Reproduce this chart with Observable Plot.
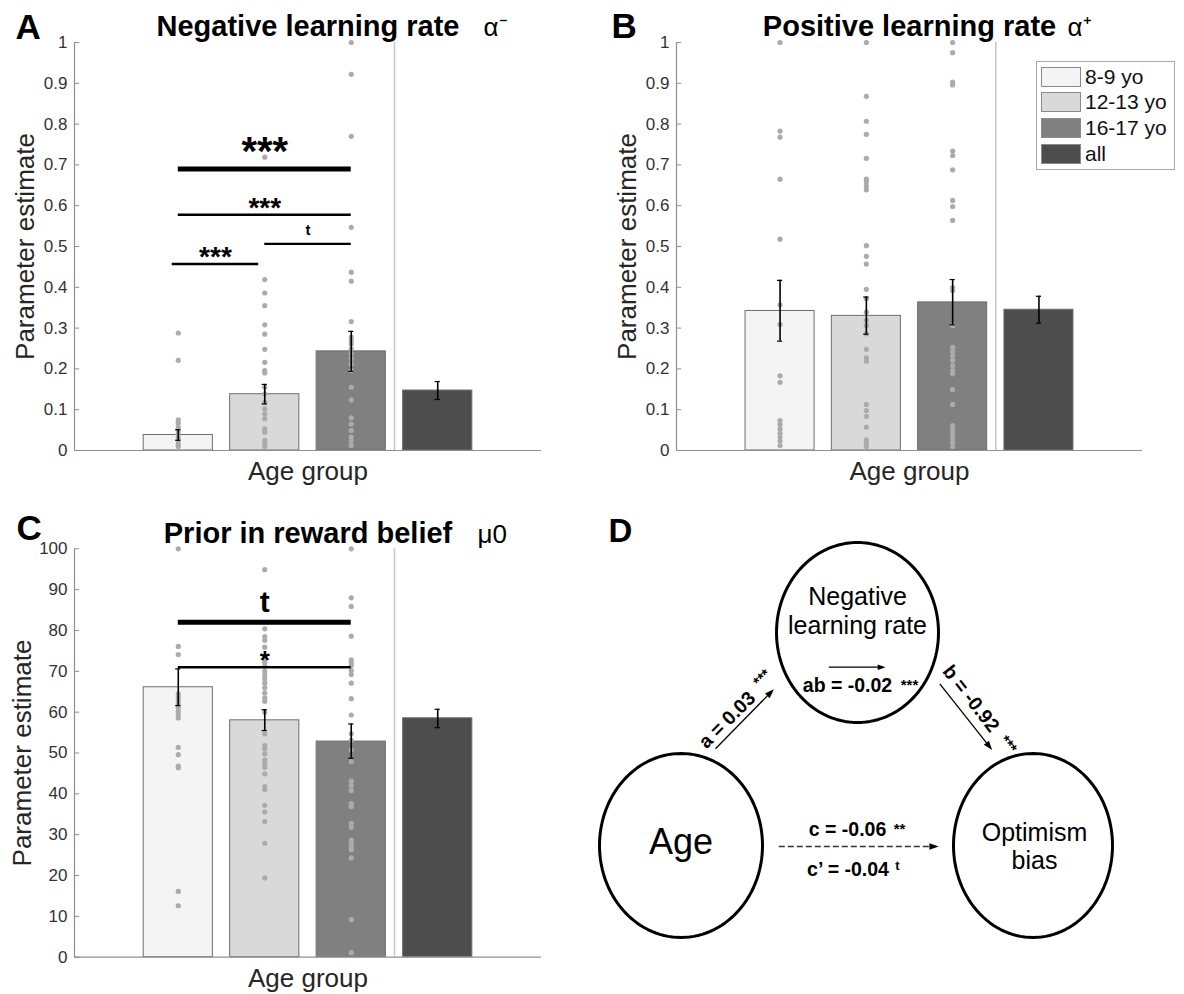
<!DOCTYPE html>
<html>
<head>
<meta charset="utf-8">
<script src="https://cdn.jsdelivr.net/npm/d3@7"></script>
<script src="https://cdn.jsdelivr.net/npm/@observablehq/plot@0.6"></script>
<style>
  body { margin: 0; background: #fff; }
  #fig { position: relative; width: 1184px; height: 994px; background: #fff;
         font-family: "Liberation Sans", Arial, Helvetica, sans-serif; overflow: hidden; }
  .panel { position: absolute; }
  #legend { position: absolute; left: 1036px; top: 61px; width: 139px; height: 109px;
            border: 1px solid #a8a8a8; box-sizing: border-box; background: #fff; }
  #legend .sw { position: absolute; left: 4px; width: 40px; height: 20px; box-sizing: border-box; border: 1px solid #8a8a8a; }
  #legend .lb { position: absolute; left: 48px; font-size: 21px; line-height: 21px; color: #111; white-space: nowrap; }
</style>
</head>
<body>
<div id="fig"></div>
<script>
// ---------------- data ----------------
const groups = ["8-9 yo", "12-13 yo", "16-17 yo", "all"];
const groupFill = ["#f4f4f4", "#d9d9d9", "#808080", "#4d4d4d"];
const xLabel = "Age group";
const yLabel = "Parameter estimate";

// Panel A: negative learning rate
const negTitle = "Negative learning rate";
const negSymbol = "α⁻";
const negMean = [0.038, 0.138, 0.243, 0.147];
const negLow  = [0.025, 0.114, 0.194, 0.125];
const negHigh = [0.051, 0.162, 0.292, 0.169];
const negDots89   = [0.288, 0.221, 0.075, 0.067, 0.057, 0.049, 0.041, 0.033, 0.025, 0.016, 0.010];
const negDots1213 = [0.719, 0.419, 0.386, 0.355, 0.308, 0.285, 0.248, 0.216, 0.196, 0.190, 0.155, 0.139, 0.118, 0.102, 0.090, 0.078, 0.053, 0.045, 0.025, 0.016, 0.010];
const negDots1617 = [1.0, 0.922, 0.770, 0.547, 0.437, 0.415, 0.316, 0.278, 0.270, 0.261, 0.249, 0.237, 0.225, 0.212, 0.196, 0.155, 0.124, 0.080, 0.065, 0.049, 0.033, 0.023, 0.012];
const negSig = [
  {from: 1, to: 3, y: 0.690, label: "***", kind: "main"},
  {from: 1, to: 3, y: 0.578, label: "***", kind: "pair"},
  {from: 2, to: 3, y: 0.5065, label: "t", kind: "pair"},
  {from: 0.93, to: 1.93, y: 0.457, label: "***", kind: "pair"}
];
const rateTicks = [0, 0.1, 0.2, 0.3, 0.4, 0.5, 0.6, 0.7, 0.8, 0.9, 1];

// Panel B: positive learning rate
const posTitle = "Positive learning rate";
const posSymbol = "α⁺";
const posMean = [0.342, 0.330, 0.363, 0.345];
const posLow  = [0.268, 0.285, 0.308, 0.312];
const posHigh = [0.417, 0.376, 0.419, 0.378];
const posDots89   = [1.0, 0.783, 0.768, 0.665, 0.518, 0.357, 0.309, 0.183, 0.167, 0.0735, 0.064, 0.053, 0.042, 0.033, 0.023, 0.012];
const posDots1213 = [1.0, 0.868, 0.807, 0.775, 0.716, 0.665, 0.658, 0.648, 0.639, 0.502, 0.476, 0.457, 0.395, 0.372, 0.339, 0.319, 0.306, 0.286, 0.248, 0.227, 0.219, 0.113, 0.098, 0.084, 0.057, 0.026, 0.018, 0.010];
const posDots1617 = [1.0, 0.975, 0.903, 0.896, 0.734, 0.723, 0.688, 0.613, 0.598, 0.564, 0.399, 0.392, 0.306, 0.253, 0.243, 0.233, 0.221, 0.208, 0.196, 0.188, 0.149, 0.113, 0.061, 0.051, 0.041, 0.031, 0.020, 0.010];
const posSig = [];

// Panel C: prior in reward belief
const priorTitle = "Prior in reward belief";
const priorSymbol = "μ0";
const priorMean = [66.1, 58.0, 52.8, 58.5];
const priorLow  = [61.6, 55.5, 48.7, 56.2];
const priorHigh = [70.6, 60.6, 57.1, 60.7];
const priorDots89   = [100, 76.1, 74.1, 64.5, 63.7, 63.0, 62.0, 61.1, 60.2, 59.4, 58.6, 51.4, 49.6, 46.8, 46.4, 16.1, 12.6];
const priorDots1213 = [94.9, 80.4, 78.5, 77.6, 75.9, 73.5, 72.2, 71.3, 70.0, 69.1, 68.2, 67.1, 66.0, 64.7, 63.5, 62.7, 60.0, 54.7, 51.8, 51.0, 49.8, 48.3, 47.3, 46.5, 44.9, 41.8, 41.0, 37.2, 35.6, 33.2, 27.9, 19.4];
const priorDots1617 = [100, 88.0, 85.9, 78.6, 72.8, 72.1, 71.4, 70.2, 69.2, 67.1, 63.3, 59.3, 54.7, 53.1, 50.8, 47.9, 43.1, 42.0, 40.8, 37.6, 36.9, 32.8, 31.8, 28.7, 27.8, 26.9, 26.3, 24.3, 9.2, 1.1];
const priorSig = [
  {from: 1, to: 3, y: 82.0, label: "t", kind: "main"},
  {from: 1, to: 3, y: 71.0, label: "*", kind: "pair"}
];
const priorTicks = [0, 10, 20, 30, 40, 50, 60, 70, 80, 90, 100];

// Panel D: mediation model
const medNodes = ["Age", "Negative\nlearning rate", "Optimism\nbias"];
const medPaths = [
  {path: "a",  coef: "a = 0.03",   sig: "***"},
  {path: "b",  coef: "b = -0.92",  sig: "***"},
  {path: "ab", coef: "ab = -0.02", sig: "***"},
  {path: "c",  coef: "c = -0.06",  sig: "**"},
  {path: "c'", coef: "c’ = -0.04", sig: "t"}
];

// ---------------- drawing ----------------
const FONT = '"Liberation Sans", Arial, Helvetica, sans-serif';
const AXIS = "#8f8f8f";
const fig = document.getElementById("fig");

function place(node, left, top) {
  node.classList.add("panel");
  node.style.left = left + "px";
  node.style.top = top + "px";
  fig.appendChild(node);
}

function sigMarks(sig) {
  const out = [];
  for (const s of sig) {
    const main = s.kind === "main";
    out.push(Plot.ruleY([s], {y: "y", x1: "from", x2: "to", stroke: "#000", strokeWidth: main ? 5 : 2.4}));
    let fs, dy;
    if (s.label === "t") { fs = main ? 30 : 15; dy = main ? -20 : -14; }
    else if (s.label === "*") { fs = 26; dy = -7; }
    else { fs = main ? 40 : 28; dy = main ? -17 : -7; }
    out.push(Plot.text([s], {x: d => (d.from + d.to) / 2, y: "y", text: "label", fontSize: fs,
      fontWeight: "bold", fill: "#000", dy}));
  }
  return out;
}

function barPanel(o) {
  const bars = groups.map((g, i) => ({group: g, pos: i + 1, mean: o.mean[i], lo: o.low[i], hi: o.high[i]}));
  const dots = o.dots.flatMap((arr, i) => arr.map(v => ({pos: i + 1, v})));
  const x0 = -0.2, x1 = 5.2;
  const y0 = o.yDomain[0];
  return Plot.plot({
    width: o.width, height: o.height,
    marginLeft: o.ml, marginRight: o.mr, marginTop: o.mt, marginBottom: o.mb,
    style: {fontFamily: FONT, color: "#262626", background: "transparent", overflow: "visible"},
    x: {domain: [x0, x1], axis: null},
    y: {domain: o.yDomain, axis: null},
    color: {domain: groups, range: groupFill},
    marks: [
      Plot.rect(bars, {x1: d => d.pos - 0.4, x2: d => d.pos + 0.4, y1: y0, y2: "mean",
        fill: "group", stroke: "#6e6e6e", strokeWidth: 1}),
      Plot.ruleX([3.5], {stroke: "#c6c6c6", strokeWidth: 1.5}),
      Plot.dot(dots, {x: "pos", y: "v", r: 2.6, fill: "#ababab"}),
      Plot.ruleX(bars, {x: "pos", y1: "lo", y2: "hi", stroke: "#000", strokeWidth: 1.6}),
      Plot.ruleY(bars, {y: "lo", x1: d => d.pos - 0.03, x2: d => d.pos + 0.03, stroke: "#000", strokeWidth: 1.2}),
      Plot.ruleY(bars, {y: "hi", x1: d => d.pos - 0.03, x2: d => d.pos + 0.03, stroke: "#000", strokeWidth: 1.2}),
      Plot.ruleX([x0], {stroke: AXIS, strokeWidth: 1.2}),
      Plot.ruleY([y0], {stroke: AXIS, strokeWidth: 1.2}),
      Plot.ruleY(o.ticks, {x1: x0, x2: x0 + 0.06, stroke: AXIS, strokeWidth: 1}),
      Plot.axisY({ticks: o.ticks, tickSize: 0, tickPadding: 7, tickFormat: d3.format("~g"),
        fontSize: 17, fill: "#333", label: null}),
      ...sigMarks(o.sig),
      Plot.text([o.title], {text: d => d, frameAnchor: "top", textAnchor: "middle", lineAnchor: "bottom", dy: o.titleDy,
        fontSize: 29, fontWeight: "bold", fill: "#000"}),
      Plot.text([o.symbol], {text: d => d, frameAnchor: "top-right", textAnchor: "start", lineAnchor: "bottom",
        dx: o.symbolDx, dy: o.titleDy, fontSize: 26, fill: "#000"}),
      Plot.text([xLabel], {text: d => d, frameAnchor: "bottom", textAnchor: "middle", lineAnchor: "bottom", dy: 29.5,
        fontSize: 26, fill: "#262626"}),
      Plot.text([yLabel], {text: d => d, frameAnchor: "left", textAnchor: "middle", lineAnchor: "bottom", rotate: -90,
        dx: o.yLabelDx, fontSize: 26, fill: "#262626"}),
      Plot.text([o.letter], {text: d => d, frameAnchor: "top-left", textAnchor: "start", lineAnchor: "bottom",
        dx: o.letterDx, dy: o.letterDy, fontSize: 35, fontWeight: "bold", fill: "#000"})
    ]
  });
}

place(barPanel({
  width: 590, height: 500, ml: 74, mr: 49, mt: 42, mb: 50,
  mean: negMean, low: negLow, high: negHigh, dots: [negDots89, negDots1213, negDots1617],
  yDomain: [0, 1], ticks: rateTicks, sig: negSig,
  title: negTitle, symbol: negSymbol, symbolDx: -58, titleDy: -7,
  yLabelDx: -41, letter: "A", letterDx: -59, letterDy: -4
}), 0, 0);

place(barPanel({
  width: 594, height: 500, ml: 86, mr: 42, mt: 42, mb: 50,
  mean: posMean, low: posLow, high: posHigh, dots: [posDots89, posDots1213, posDots1617],
  yDomain: [0, 1], ticks: rateTicks, sig: posSig,
  title: posTitle, symbol: posSymbol, symbolDx: -75, titleDy: -7,
  yLabelDx: -41, letter: "B", letterDx: -65, letterDy: -5
}), 590, 0);

place(barPanel({
  width: 590, height: 494, ml: 74, mr: 49, mt: 48.3, mb: 37.3,
  mean: priorMean, low: priorLow, high: priorHigh, dots: [priorDots89, priorDots1213, priorDots1617],
  yDomain: [0, 100], ticks: priorTicks, sig: priorSig,
  title: priorTitle, symbol: priorSymbol, symbolDx: -64, titleDy: -6.3,
  yLabelDx: -44, letter: "C", letterDx: -58, letterDy: -9
}), 0, 500);

// Legend (HTML, over panel B)
const legend = document.createElement("div");
legend.id = "legend";
const rowCenters = [15, 40, 66, 92];
groups.forEach((g, i) => {
  const sw = document.createElement("div");
  sw.className = "sw";
  sw.style.top = (rowCenters[i] - 10) + "px";
  sw.style.background = groupFill[i];
  legend.appendChild(sw);
  const lb = document.createElement("div");
  lb.className = "lb";
  lb.style.top = (rowCenters[i] - 11) + "px";
  lb.textContent = g;
  legend.appendChild(lb);
});
fig.appendChild(legend);

// Panel D: mediation diagram (diagram units = panel pixels)
const layoutNodes = [
  {cx: 90.5, cy: 345, rx: 81.5, ry: 92, tx: 90.5, ty: 353, fs: 36, lh: 1},
  {cx: 267, cy: 132, rx: 81, ry: 90, tx: 267, ty: 133.5, fs: 25, lh: 1.16},
  {cx: 442.5, cy: 345, rx: 79.5, ry: 92, tx: 444, ty: 368.5, fs: 25, lh: 1.13}
];
const layoutEdges = [
  {path: "a",  x1: 125, y1: 248.3, x2: 186, y2: 186, dashed: false, lx: 141, ly: 224, rot: -45, sx: 175, sy: 181, sfs: 15},
  {path: "b",  x1: 349.3, y1: 183.3, x2: 404, y2: 252.5, dashed: false, lx: 375.5, ly: 202, rot: 52, sx: 414, sy: 247, sfs: 15},
  {path: "ab", x1: 238.3, y1: 166.7, x2: 297, y2: 166.7, dashed: false, lx: 257, ly: 191.7, rot: 0, sx: 319, sy: 189, sfs: 15},
  {path: "c",  x1: 188.3, y1: 346, x2: 352, y2: 346, dashed: true, lx: 257, ly: 335.7, rot: 0, sx: 309, sy: 333, sfs: 15},
  {path: "c'", x1: null, y1: null, x2: null, y2: null, dashed: true, lx: 257.5, ly: 375.7, rot: 0, sx: 307, sy: 369, sfs: 13}
];

// slender filled arrow-head symbol (tip at -2L/3, centroid at origin)
const arrowHead = {
  draw(context, size) {
    const r = Math.sqrt(size / Math.PI);
    const L = 3 * r, w = 1.05 * r;
    context.moveTo(0, -2 * L / 3);
    context.lineTo(-w, L / 3);
    context.lineTo(w, L / 3);
    context.closePath();
  }
};

const nodes = medNodes.map((label, i) => ({label, ...layoutNodes[i]}));
const edges = medPaths.map((p, i) => ({...p, ...layoutEdges[i]}));
const ellipsePts = nodes.flatMap((n, k) => d3.range(0, 361, 3).map(a => ({
  k, x: n.cx + n.rx * Math.cos(a * Math.PI / 180), y: n.cy + n.ry * Math.sin(a * Math.PI / 180)
})));
const arrows = edges.filter(e => e.x1 != null).map(e => {
  const dx = e.x2 - e.x1, dy = e.y2 - e.y1, L = Math.hypot(dx, dy);
  const ux = dx / L, uy = dy / L;
  const r = e.path === "ab" ? 3.6 : 5;
  const tipOff = 2 * r;
  return {...e, r, hx: e.x2 - ux * tipOff, hy: e.y2 - uy * tipOff,
          rotate: Math.atan2(dy, dx) * 180 / Math.PI + 90};
});

const textMarks = [];
for (const n of nodes) {
  textMarks.push(Plot.text([n], {x: "tx", y: "ty", text: "label", fontSize: n.fs, lineHeight: n.lh,
    lineAnchor: "bottom", textAnchor: "middle", fill: "#000"}));
}
for (const e of edges) {
  textMarks.push(Plot.text([e], {x: "lx", y: "ly", text: "coef", rotate: e.rot, fontSize: 19.5,
    fontWeight: "bold", lineAnchor: "bottom", textAnchor: "middle", fill: "#000"}));
  textMarks.push(Plot.text([e], {x: "sx", y: "sy", text: "sig", rotate: e.rot, fontSize: e.sfs,
    fontWeight: "bold", lineAnchor: "bottom", textAnchor: "middle", fill: "#000"}));
}

const panelD = Plot.plot({
  width: 594, height: 494, margin: 0,
  style: {fontFamily: FONT, background: "transparent", overflow: "visible"},
  x: {domain: [0, 594], range: [0, 594], axis: null},
  y: {domain: [0, 494], range: [0, 494], axis: null},
  marks: [
    Plot.line(ellipsePts, {x: "x", y: "y", z: "k", stroke: "#000", strokeWidth: 3, curve: "linear-closed"}),
    Plot.link(arrows.filter(a => !a.dashed), {x1: "x1", y1: "y1", x2: "hx", y2: "hy", stroke: "#000", strokeWidth: 1.3}),
    Plot.link(arrows.filter(a => a.dashed), {x1: "x1", y1: "y1", x2: "hx", y2: "hy", stroke: "#333", strokeWidth: 1.4, strokeDasharray: "6,3"}),
    Plot.dot(arrows, {x: "hx", y: "hy", r: "r", symbol: arrowHead, rotate: "rotate", fill: "#000", stroke: "none"}),
    ...textMarks,
    Plot.text(["D"], {text: d => d, frameAnchor: "top-left", textAnchor: "start", lineAnchor: "bottom",
      dx: 18, dy: 41, fontSize: 33, fontWeight: "bold", fill: "#000"})
  ]
});
place(panelD, 590, 500);
</script>
</body>
</html>
